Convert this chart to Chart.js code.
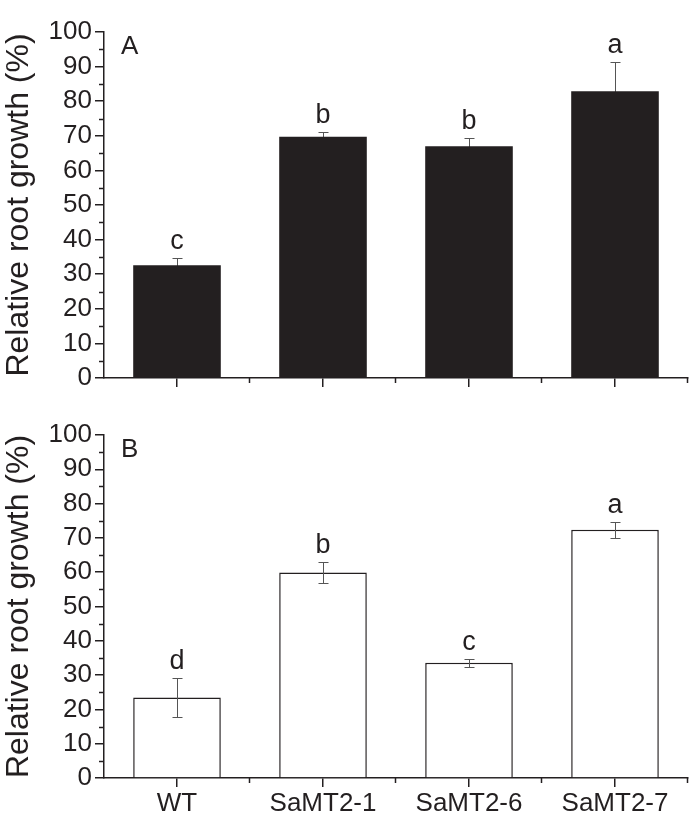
<!DOCTYPE html>
<html>
<head>
<meta charset="utf-8">
<script src="https://cdn.jsdelivr.net/npm/chart.js@4"></script>
<style>
  body { margin: 0; background: #fff; }
  #wrap { position: relative; width: 689px; height: 816px; }
  canvas { position: absolute; left: 0; }
  #chartA { top: 0; }
  #chartB { top: 408px; }
</style>
</head>
<body>
<div id="wrap">
  <canvas id="chartA" width="689" height="408"></canvas>
  <canvas id="chartB" width="689" height="408"></canvas>
</div>
<script>
// Data
var lines = ['WT', 'SaMT2-1', 'SaMT2-6', 'SaMT2-7'];
var growthA = [32.6, 69.7, 67.0, 82.9];
var errorA = [2.0, 1.5, 2.4, 8.3];
var lettersA = ['c', 'b', 'b', 'a'];
var growthB = [23.5, 59.9, 33.6, 72.4];
var errorB = [5.7, 3.1, 1.2, 2.3];
var lettersB = ['d', 'b', 'c', 'a'];
var yTicks = [0, 10, 20, 30, 40, 50, 60, 70, 80, 90, 100];

var ink = '#231f20';
var font = "'Liberation Sans', Arial, sans-serif";

// error bars, letters, minor ticks and panel letter
var extrasPlugin = {
    id: 'extras',
    beforeDatasetsDraw: function (chart) {
        if (chart.options.extras.behind) drawErrors(chart);
    },
    afterDatasetsDraw: function (chart) {
        if (!chart.options.extras.behind) drawErrors(chart);
    },
    afterDraw: function (chart) {
        var ex = chart.options.extras;
        var ctx = chart.ctx;
        var y = chart.scales.y;
        var area = chart.chartArea;
        ctx.save();
        ctx.strokeStyle = ink;
        ctx.lineWidth = 1.5;
        // minor y ticks
        for (var v = 5; v < 100; v += 10) {
            var py = Math.round(y.getPixelForValue(v)) + 0.5;
            ctx.beginPath();
            ctx.moveTo(area.left - 5, py);
            ctx.lineTo(area.left, py);
            ctx.stroke();
        }
        // minor x ticks at category boundaries
        var step = (area.right - area.left) / lines.length;
        for (var i = 1; i <= lines.length; i++) {
            var px = Math.round(area.left + step * i) - 0.5;
            ctx.beginPath();
            ctx.moveTo(px, area.bottom);
            ctx.lineTo(px, area.bottom + 5);
            ctx.stroke();
        }
        // panel letter
        ctx.fillStyle = ink;
        ctx.font = '26px ' + font;
        ctx.textAlign = 'left';
        ctx.textBaseline = 'middle';
        ctx.fillText(ex.panel, area.left + 17, area.top + 15);
        // significance letters
        var meta = chart.getDatasetMeta(0);
        ctx.font = '27px ' + font;
        ctx.textAlign = 'center';
        ctx.textBaseline = 'alphabetic';
        ex.values.forEach(function (val, k) {
            var top = y.getPixelForValue(val + ex.errors[k]);
            ctx.fillText(ex.letters[k], meta.data[k].x, top - 9);
        });
        ctx.restore();
    }
};

function drawErrors(chart) {
    var ex = chart.options.extras;
    var ctx = chart.ctx;
    var y = chart.scales.y;
    var meta = chart.getDatasetMeta(0);
    ctx.save();
    ctx.strokeStyle = '#555';
    ctx.lineWidth = 1;
    ex.values.forEach(function (val, k) {
        var cx = Math.round(meta.data[k].x) + 0.5;
        var t = Math.round(y.getPixelForValue(val + ex.errors[k])) + 0.5;
        var b = Math.round(y.getPixelForValue(val - ex.errors[k])) + 0.5;
        ctx.beginPath();
        ctx.moveTo(cx, t); ctx.lineTo(cx, b);
        ctx.moveTo(cx - 5, t); ctx.lineTo(cx + 5, t);
        ctx.moveTo(cx - 5, b); ctx.lineTo(cx + 5, b);
        ctx.stroke();
    });
    ctx.restore();
}

function makeChart(id, values, errors, letters, panel, filled, topPad, xHeight, showLabels) {
    return new Chart(document.getElementById(id), {
        type: 'bar',
        data: {
            labels: lines,
            datasets: [{
                data: values,
                backgroundColor: filled ? ink : '#fff',
                borderColor: ink,
                borderWidth: filled ? 0 : 1.5,
                barPercentage: 0.6,
                categoryPercentage: 1
            }]
        },
        plugins: [extrasPlugin],
        options: {
            responsive: false,
            animation: false,
            devicePixelRatio: 1,
            layout: { padding: { top: topPad, right: 1, left: 0, bottom: 0 } },
            plugins: { legend: { display: false }, tooltip: { enabled: false } },
            extras: { values: values, errors: errors, letters: letters, panel: panel, behind: filled },
            scales: {
                x: {
                    offset: true,
                    grid: { offset: false, drawOnChartArea: false, tickLength: 9, color: ink, lineWidth: 1.5 },
                    border: { color: ink, width: 1.5 },
                    ticks: { display: showLabels, color: ink, font: { family: font, size: 26 }, padding: 1, maxRotation: 0 },
                    afterFit: function (s) { s.height = xHeight; }
                },
                y: {
                    min: 0, max: 100,
                    afterBuildTicks: function (s) { s.ticks = yTicks.map(function (v) { return { value: v }; }); },
                    grid: { drawOnChartArea: false, tickLength: 9, color: ink, lineWidth: 1.5 },
                    border: { color: ink, width: 1.5 },
                    ticks: { color: ink, font: { family: font, size: 26 }, padding: 3 },
                    title: { display: true, text: 'Relative root growth (%)', color: ink, font: { family: font, size: 32 }, padding: { top: 0, bottom: 0 } },
                    afterFit: function (s) { s.width = 104; }
                }
            }
        }
    });
}

var chartA = makeChart('chartA', growthA, errorA, lettersA, 'A', true, 32, 30, false);
var chartB = makeChart('chartB', growthB, errorB, lettersB, 'B', false, 27, 38, true);
</script>
</body>
</html>
